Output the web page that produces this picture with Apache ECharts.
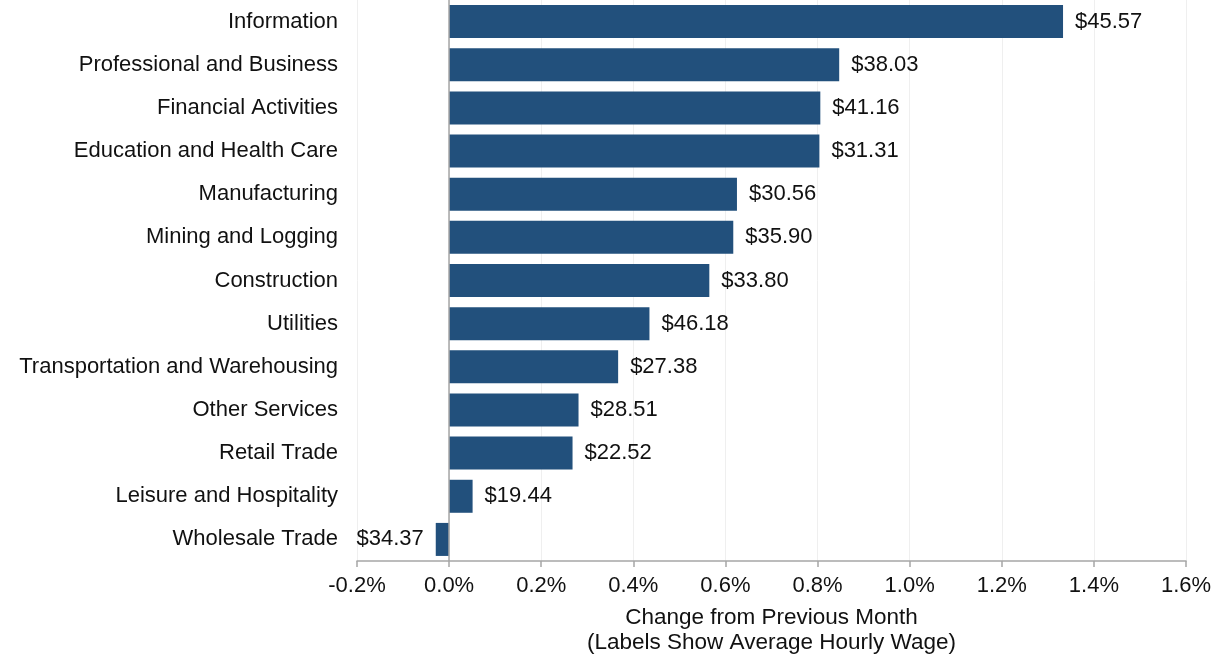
<!DOCTYPE html>
<html>
<head>
<meta charset="utf-8">
<script src="https://cdn.jsdelivr.net/npm/echarts@6/dist/echarts.min.js"></script>
<style>
html,body{margin:0;padding:0;background:#fff;}
#chart{width:1214px;height:655px;}
</style>
</head>
<body>
<div id="chart"></div>
<script>
const categories = [
  "Information",
  "Professional and Business",
  "Financial Activities",
  "Education and Health Care",
  "Manufacturing",
  "Mining and Logging",
  "Construction",
  "Utilities",
  "Transportation and Warehousing",
  "Other Services",
  "Retail Trade",
  "Leisure and Hospitality",
  "Wholesale Trade"
];
const changePct = [1.333, 0.847, 0.806, 0.804, 0.625, 0.617, 0.565, 0.435, 0.367, 0.281, 0.268, 0.051, -0.029];
const wageLabels = ["$45.57", "$38.03", "$41.16", "$31.31", "$30.56", "$35.90", "$33.80", "$46.18", "$27.38", "$28.51", "$22.52", "$19.44", "$34.37"];
const xTicks = { min: -0.2, max: 1.6, step: 0.2 };

const font = "'Liberation Sans', Arial, Helvetica, sans-serif";
const chart = echarts.init(document.getElementById('chart'), null, { renderer: 'canvas' });

const data = changePct.map((v, i) => ({
  value: v,
  label: {
    position: v < 0 ? 'left' : 'right',
    formatter: wageLabels[i]
  }
}));

chart.setOption({
  animation: false,
  grid: { left: 357, right: 28, top: 0, bottom: 94, containLabel: false, outerBoundsMode: 'none' },
  xAxis: {
    type: 'value',
    min: xTicks.min,
    max: xTicks.max,
    interval: xTicks.step,
    position: 'bottom',
    axisLine: { show: true, onZero: false, lineStyle: { color: '#a6a6a6', width: 1.5 } },
    axisTick: { show: true, length: 6, lineStyle: { color: '#a6a6a6', width: 1.5 } },
    splitLine: { show: true, lineStyle: { color: '#efefef', width: 1 } },
    axisLabel: {
      color: '#111', fontSize: 22, fontFamily: font, margin: 14,
      formatter: v => v.toFixed(1) + '%'
    },
    name: 'Change from Previous Month\n(Labels Show Average Hourly Wage)',
    nameLocation: 'middle',
    nameGap: 44,
    nameTextStyle: { color: '#111', fontSize: 22.5, fontFamily: font, lineHeight: 25, verticalAlign: 'top' }
  },
  yAxis: {
    type: 'category',
    data: categories,
    inverse: true,
    axisLine: { show: false },
    axisTick: { show: false },
    splitLine: { show: false },
    axisLabel: { color: '#111', fontSize: 22, fontFamily: font, margin: 19 }
  },
  series: [{
    type: 'bar',
    data: data,
    barCategoryGap: '23.5%',
    itemStyle: { color: '#22507c' },
    label: {
      show: true,
      distance: 12,
      color: '#111',
      fontSize: 22,
      fontFamily: font
    },
    markLine: {
      silent: true,
      symbol: 'none',
      label: { show: false },
      lineStyle: { color: '#a6a6a6', width: 1.5, type: 'solid' },
      data: [{ xAxis: 0 }]
    }
  }]
});
</script>
</body>
</html>
